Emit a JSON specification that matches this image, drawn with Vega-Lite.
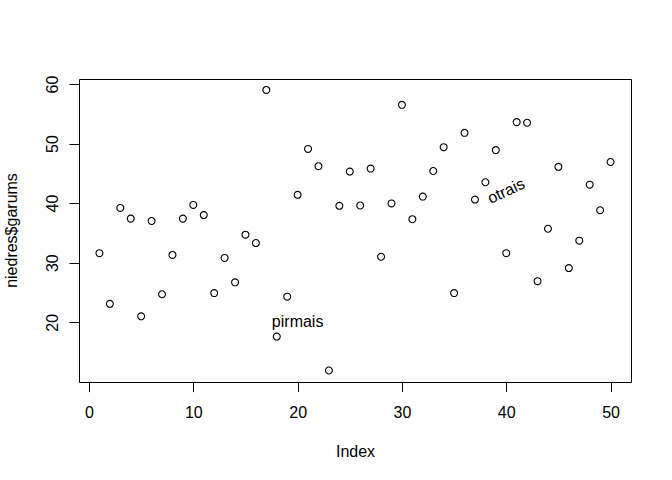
{
  "$schema": "https://vega.github.io/schema/vega-lite/v6.json",
  "width": 552,
  "height": 303,
  "autosize": "none",
  "padding": {"left": 79, "top": 79, "right": 41, "bottom": 98},
  "background": "white",
  "config": {
    "view": {"stroke": "black", "strokeWidth": 1},
    "font": "Liberation Sans",
    "axis": {
      "domain": false,
      "grid": false,
      "tickColor": "black",
      "labelColor": "black",
      "titleColor": "black",
      "labelFont": "Liberation Sans",
      "titleFont": "Liberation Sans",
      "labelFontSize": 16,
      "titleFontSize": 16,
      "titleFontWeight": "normal"
    }
  },
  "layer": [
    {
      "data": {
        "values": [
          {"Index": 1, "garums": 31.6}, {"Index": 2, "garums": 23.1}, {"Index": 3, "garums": 39.2},
          {"Index": 4, "garums": 37.4}, {"Index": 5, "garums": 21.0}, {"Index": 6, "garums": 37.0},
          {"Index": 7, "garums": 24.7}, {"Index": 8, "garums": 31.3}, {"Index": 9, "garums": 37.4},
          {"Index": 10, "garums": 39.7}, {"Index": 11, "garums": 38.0}, {"Index": 12, "garums": 24.9},
          {"Index": 13, "garums": 30.8}, {"Index": 14, "garums": 26.7}, {"Index": 15, "garums": 34.7},
          {"Index": 16, "garums": 33.3}, {"Index": 17, "garums": 59.0}, {"Index": 18, "garums": 17.6},
          {"Index": 19, "garums": 24.3}, {"Index": 20, "garums": 41.4}, {"Index": 21, "garums": 49.1},
          {"Index": 22, "garums": 46.2}, {"Index": 23, "garums": 11.9}, {"Index": 24, "garums": 39.55},
          {"Index": 25, "garums": 45.3}, {"Index": 26, "garums": 39.6}, {"Index": 27, "garums": 45.8},
          {"Index": 28, "garums": 31.0}, {"Index": 29, "garums": 39.95}, {"Index": 30, "garums": 56.5},
          {"Index": 31, "garums": 37.3}, {"Index": 32, "garums": 41.1}, {"Index": 33, "garums": 45.4},
          {"Index": 34, "garums": 49.4}, {"Index": 35, "garums": 24.9}, {"Index": 36, "garums": 51.8},
          {"Index": 37, "garums": 40.6}, {"Index": 38, "garums": 43.5}, {"Index": 39, "garums": 48.9},
          {"Index": 40, "garums": 31.6}, {"Index": 41, "garums": 53.6}, {"Index": 42, "garums": 53.5},
          {"Index": 43, "garums": 26.9}, {"Index": 44, "garums": 35.7}, {"Index": 45, "garums": 46.1},
          {"Index": 46, "garums": 29.1}, {"Index": 47, "garums": 33.7}, {"Index": 48, "garums": 43.1},
          {"Index": 49, "garums": 38.8}, {"Index": 50, "garums": 46.9}
        ]
      },
      "mark": {"type": "point", "shape": "circle", "filled": false, "stroke": "black", "strokeWidth": 1.1, "size": 48, "opacity": 1},
      "encoding": {
        "x": {
          "field": "Index", "type": "quantitative",
          "scale": {"domain": [-0.96, 51.96], "nice": false, "zero": false},
          "axis": {"values": [0, 10, 20, 30, 40, 50], "tickSize": 9.6, "labelPadding": 26, "labelBaseline": "alphabetic", "title": "Index", "titleY": 74, "titleBaseline": "alphabetic"}
        },
        "y": {
          "field": "garums", "type": "quantitative",
          "scale": {"domain": [9.97, 60.84], "nice": false, "zero": false},
          "axis": {"values": [20, 30, 40, 50, 60], "tickSize": 10, "labelAngle": -90, "labelAlign": "center", "labelBaseline": "alphabetic", "labelPadding": 12, "title": "niedres$garums", "titleAngle": -90, "titleX": -62.4, "titleY": 151, "titleAlign": "center", "titleBaseline": "alphabetic"}
        }
      }
    },
    {
      "data": {
        "values": [
          {"label": "pirmais", "Index": 20, "garums": 20, "angle": 0},
          {"label": "otrais", "Index": 40, "garums": 42, "angle": -25}
        ]
      },
      "mark": {"type": "text", "fontSize": 16, "align": "center", "baseline": "middle", "color": "black", "font": "Liberation Sans"},
      "encoding": {
        "x": {"field": "Index", "type": "quantitative"},
        "y": {"field": "garums", "type": "quantitative"},
        "text": {"field": "label"},
        "angle": {"field": "angle", "type": "quantitative", "scale": null}
      }
    }
  ]
}
